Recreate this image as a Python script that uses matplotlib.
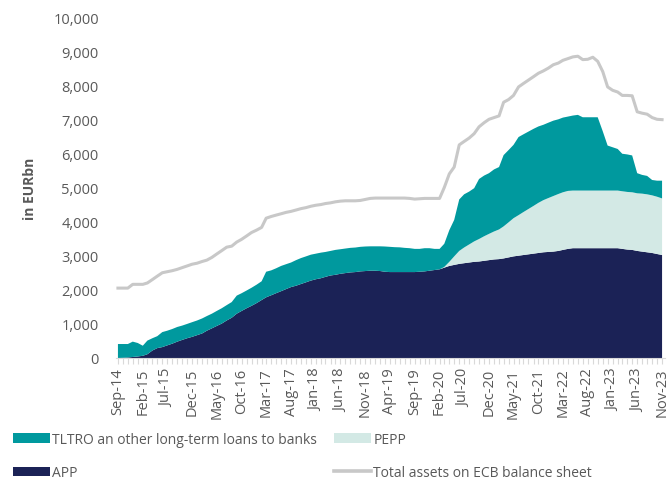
import matplotlib
matplotlib.use("Agg")
import matplotlib.pyplot as plt
import matplotlib.dates as mdates
import matplotlib.ticker as mticker
from matplotlib.patches import Patch
from matplotlib.lines import Line2D
import pandas as pd

plt.rcParams["font.family"] = ["Open Sans", "DejaVu Sans"]

# ============================================================
# DONNÉES (EUR bn, mensuel, Sep-14 -> Nov-23)
# ============================================================
months = pd.date_range("2014-09-01", "2023-11-01", freq="MS")

app = [
    0, 5, 15, 30,                                                          # 2014
    45, 65, 110, 220, 290, 320, 370, 420, 480, 530, 580, 620,              # 2015
    670, 720, 800, 870, 940, 1010, 1100, 1180, 1300, 1380, 1460, 1530,     # 2016
    1610, 1700, 1780, 1840, 1900, 1960, 2020, 2080, 2120, 2170, 2220, 2270,  # 2017
    2310, 2340, 2380, 2420, 2440, 2470, 2490, 2510, 2520, 2540, 2550, 2560,  # 2018
    2560, 2550, 2530, 2520, 2520, 2520, 2520, 2520, 2520, 2530, 2540, 2560,  # 2019
    2580, 2600, 2650, 2700, 2730, 2760, 2780, 2800, 2820, 2830, 2850, 2870,  # 2020
    2890, 2900, 2920, 2950, 2980, 3000, 3020, 3040, 3060, 3080, 3100, 3110,  # 2021
    3120, 3140, 3170, 3200, 3220, 3220, 3220, 3220, 3220, 3220, 3220, 3220,  # 2022
    3220, 3220, 3200, 3180, 3170, 3140, 3120, 3100, 3080, 3050, 3020,        # 2023
]

pepp = [0] * 66 + [
    20, 120, 250, 380, 460, 530, 600, 660, 720, 770,                       # Mar-20 .. Dec-20
    820, 870, 940, 1030, 1120, 1190, 1260, 1330, 1400, 1470, 1530, 1580,   # 2021
    1630, 1670, 1690, 1700, 1690, 1690, 1690, 1690, 1690, 1690, 1690, 1690,  # 2022
    1690, 1690, 1690, 1690, 1690, 1690, 1700, 1700, 1690, 1680, 1660,      # 2023
]

tltro = [
    410, 405, 395, 450,                                                    # 2014
    395, 295, 400, 360, 350, 440, 430, 430, 430, 420, 420, 430,            # 2015
    430, 440, 430, 430, 440, 450, 450, 460, 530, 520, 520, 530,            # 2016
    540, 550, 750, 730, 730, 740, 730, 720, 750, 760, 760, 760,            # 2017
    750, 750, 730, 720, 730, 720, 720, 720, 720, 720, 720, 715,            # 2018
    715, 725, 740, 740, 730, 725, 710, 700, 680, 670, 680, 660,            # 2019
    620, 600, 680, 930, 1070, 1510, 1560, 1550, 1560, 1760, 1780, 1780,    # 2020
    1820, 1830, 2090, 2120, 2150, 2290, 2280, 2270, 2260, 2240, 2210, 2210,  # 2021
    2210, 2190, 2190, 2180, 2200, 2220, 2150, 2150, 2150, 2150, 1740, 1320,  # 2022
    1270, 1220, 1100, 1100, 1080, 590, 550, 540, 450, 470, 520,            # 2023
]

total_assets = [
    2050, 2050, 2050, 2160,                                                # 2014
    2160, 2160, 2200, 2300, 2400, 2500, 2530, 2560, 2600, 2650, 2700, 2750,  # 2015
    2780, 2830, 2870, 2950, 3050, 3150, 3250, 3280, 3400, 3480, 3580, 3680,  # 2016
    3750, 3830, 4100, 4150, 4190, 4230, 4270, 4300, 4340, 4380, 4410, 4450,  # 2017
    4480, 4500, 4530, 4550, 4580, 4600, 4610, 4610, 4610, 4620, 4650, 4680,  # 2018
    4690, 4690, 4690, 4690, 4690, 4690, 4690, 4680, 4660, 4670, 4680, 4680,  # 2019
    4680, 4680, 5000, 5400, 5600, 6250, 6350, 6450, 6580, 6780, 6900, 7000,  # 2020
    7050, 7100, 7500, 7580, 7700, 7950, 8050, 8150, 8250, 8350, 8420, 8500,  # 2021
    8600, 8650, 8730, 8780, 8830, 8850, 8750, 8760, 8820, 8700, 8400, 7950,  # 2022
    7850, 7800, 7700, 7700, 7690, 7220, 7180, 7150, 7050, 7000, 6990,      # 2023
]

LABELS = ["TLTRO an other long-term loans to banks", "PEPP", "APP",
          "Total assets on ECB balance sheet"]

C_APP   = "#1b2256"
C_PEPP  = "#d3e9e5"
C_TLTRO = "#00999e"
C_TOTAL = "#c8c8c8"
C_TEXT  = "#595959"

# ============================================================
# GRAPHIQUE
# ============================================================
fig = plt.figure(figsize=(6.69, 4.85), dpi=100)
ax = fig.add_axes([115.5 / 669, 1 - 359 / 485, 549 / 669, (359 - 18) / 485])

ax.stackplot(months, app, pepp, tltro, colors=[C_APP, C_PEPP, C_TLTRO], linewidth=0)
ax.plot(months, total_assets, color=C_TOTAL, lw=2.2, solid_joinstyle="round")

ax.set_xlim(months[0] - pd.Timedelta(days=15), months[-1] + pd.Timedelta(days=15))
ax.set_ylim(0, 10000)

ax.yaxis.set_major_locator(mticker.MultipleLocator(1000))
ax.yaxis.set_major_formatter(mticker.FuncFormatter(lambda v, p: f"{int(v):,}"))
ax.set_ylabel("in EURbn", fontsize=10, fontweight="bold", color=C_TEXT, labelpad=12)

ax.set_xticks(months[::5])
ax.set_xticks(months, minor=True)
ax.xaxis.set_major_formatter(mdates.DateFormatter("%b-%y"))
plt.setp(ax.get_xticklabels(), rotation=90)

ax.tick_params(axis="y", length=0, labelsize=10.5, labelcolor=C_TEXT, pad=12)
ax.tick_params(axis="x", which="both", length=4, color="#d9d9d9", width=0.8,
               labelsize=10.5, labelcolor=C_TEXT, pad=3)

for s in ["top", "right", "left"]:
    ax.spines[s].set_visible(False)
ax.spines["bottom"].set_color("#d9d9d9")

handles = [
    Patch(facecolor=C_TLTRO, edgecolor="none"),
    Patch(facecolor=C_APP, edgecolor="none"),
    Patch(facecolor=C_PEPP, edgecolor="none"),
    Line2D([0], [0], color=C_TOTAL, lw=2.6),
]
labels = [LABELS[0], LABELS[2], LABELS[1], LABELS[3]]
leg = fig.legend(handles, labels, ncol=2, loc="upper left",
                 bbox_to_anchor=(0.0, 1 - 420 / 485), frameon=False,
                 fontsize=10, handlelength=2.7, handleheight=0.7,
                 handletextpad=0.15, columnspacing=1.2, labelspacing=1.35)
for t in leg.get_texts():
    t.set_color(C_TEXT)

fig.savefig("out.png", dpi=100)
